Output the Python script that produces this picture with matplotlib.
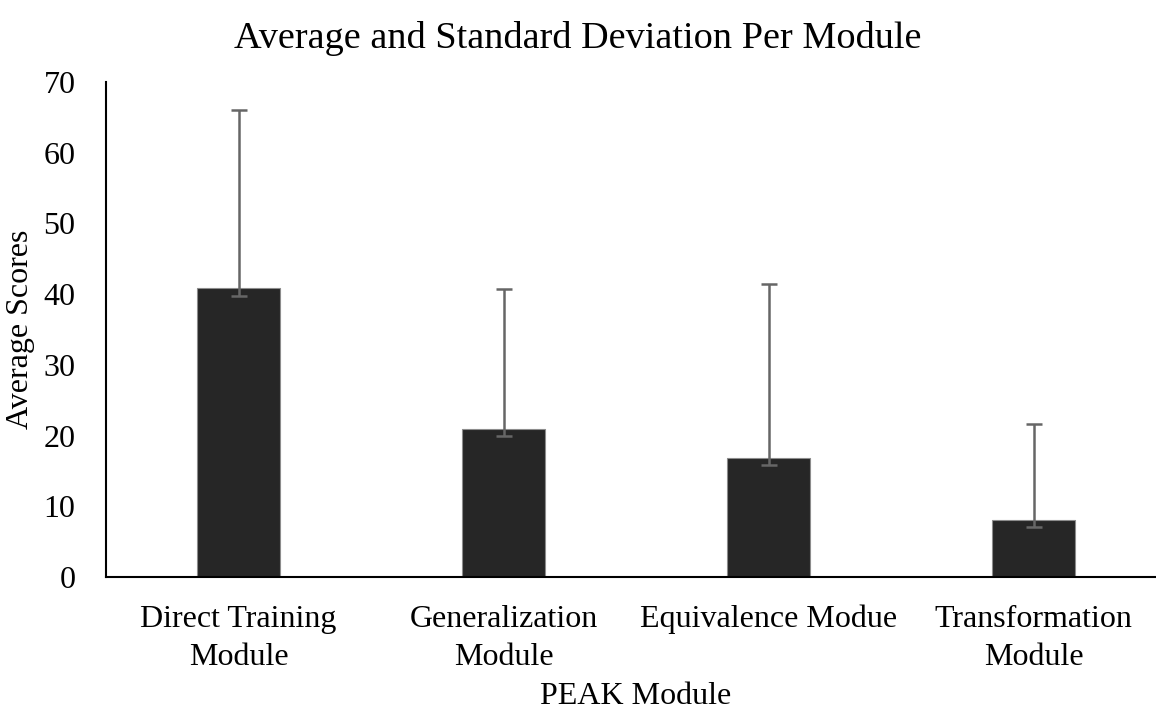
import numpy as np
import matplotlib
matplotlib.use('Agg')
from matplotlib import pyplot as plt

plt.rcParams['font.family'] = ['Liberation Serif', 'DejaVu Serif']

modules = ['Direct Training\nModule', 'Generalization\nModule',
           'Equivalence Modue', 'Transformation\nModule']
averages = [40.9, 21.0, 16.8, 8.0]
err_low = [1.1, 1.0, 1.0, 0.9]
err_high = [25.2, 19.7, 24.6, 13.7]

fig = plt.figure(figsize=(11.56, 7.12), dpi=100)
ax = fig.add_axes([0.0917, 0.1896, 0.9170, 0.6952])

x = np.arange(len(modules))
ax.bar(x, averages, width=0.31, color='#262626', edgecolor='#8c8c8c', linewidth=0.8, zorder=2)
ax.errorbar(x, averages, yerr=[err_low, err_high], fmt='none', ecolor='#666666',
            elinewidth=1.8, capsize=6, capthick=1.8, zorder=3)

ax.set_xlim(-0.5, 3.5)
ax.set_ylim(0, 70)
ax.set_yticks(range(0, 71, 10))
ax.set_xticks(x)
ax.set_xticklabels(modules, fontsize=23, linespacing=1.4)
ax.tick_params(axis='y', labelsize=23, length=0, pad=22)
ax.tick_params(axis='x', length=0, pad=20)

for s in ['top', 'right']:
    ax.spines[s].set_visible(False)
for s in ['left', 'bottom']:
    ax.spines[s].set_linewidth(1.5)

ax.set_ylabel('Average Scores', fontsize=23)
ax.yaxis.set_label_coords(-0.067, 0.5)
ax.set_xlabel('PEAK Module', fontsize=23)
ax.xaxis.set_label_coords(0.5, -0.212)
fig.suptitle('Average and Standard Deviation Per Module', fontsize=27.5, y=0.97)

plt.savefig('out.png', dpi=100)
